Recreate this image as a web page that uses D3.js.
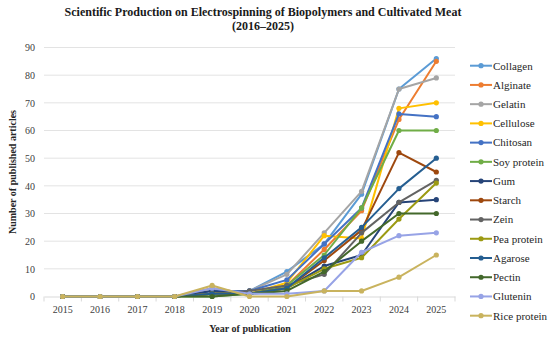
<!DOCTYPE html>
<html><head><meta charset="utf-8">
<script src="https://cdn.jsdelivr.net/npm/d3@7"></script>
<style>body{margin:0;background:#fff}svg{display:block}</style>
</head><body>
<svg id="c" width="550" height="340"></svg>
<script>
const years = ["2015","2016","2017","2018","2019","2020","2021","2022","2023","2024","2025"];
const yTicks = [0,10,20,30,40,50,60,70,80,90];
const seriesNames = ["Collagen","Alginate","Gelatin","Cellulose","Chitosan","Soy protein","Gum","Starch","Zein","Pea protein","Agarose","Pectin","Glutenin","Rice protein"];
const collagen   = [0,0,0,0,1,2,9,19,37,75,86];
const alginate   = [0,0,0,0,3,1,4,17,31,64,85];
const gelatin    = [0,0,0,0,1,2,8,23,38,75,79];
const cellulose  = [0,0,0,0,1,1,5,22,21,68,70];
const chitosan   = [0,0,0,0,2,2,6,19,32,66,65];
const soyProtein = [0,0,0,0,0,1,4,15,32,60,60];
const gum        = [0,0,0,0,2,1,3,11,15,34,35];
const starch     = [0,0,0,0,1,1,3,13,24,52,45];
const zein       = [0,0,0,0,1,2,4,8,23,34,42];
const peaProtein = [0,0,0,0,1,1,3,10,14,28,41];
const agarose    = [0,0,0,0,1,1,3,14,25,39,50];
const pectin     = [0,0,0,0,0,1,2,9,20,30,30];
const glutenin   = [0,0,0,0,3,1,1,2,16,22,23];
const riceProtein= [0,0,0,0,4,0,0,2,2,7,15];
const seriesValues = [collagen,alginate,gelatin,cellulose,chitosan,soyProtein,gum,starch,zein,peaProtein,agarose,pectin,glutenin,riceProtein];
const colors = ["#5B9BD5","#ED7D31","#A5A5A5","#FFC000","#4472C4","#70AD47","#264478","#9E480E","#636363","#9C9A12","#255E91","#43682B","#97A3E6","#C9B35E"];

const svg = d3.select("#c");
const serif = "'Liberation Serif','Times New Roman',serif";
const m = {l:44, r:455, t:47.5, b:296.5};
const x = d3.scaleBand().domain(years).range([m.l, m.r]);
const y = d3.scaleLinear().domain([0,90]).range([m.b, m.t]);

// gridlines
svg.append("g").selectAll("line").data(yTicks.filter(d=>d>0)).join("line")
  .attr("x1",m.l).attr("x2",m.r).attr("y1",d=>y(d)).attr("y2",d=>y(d))
  .attr("stroke","#e3e3e3").attr("stroke-width",1);

// x axis
const xa = svg.append("g").attr("transform",`translate(0,${m.b})`)
  .call(d3.axisBottom(x).tickSize(0).tickPadding(9));
xa.select(".domain").attr("stroke","#d9d9d9");
xa.selectAll("text").attr("font-family",serif).attr("font-size",10).attr("fill","#404040");
// category boundary ticks
svg.append("g").selectAll("line").data(d3.range(years.length+1)).join("line")
  .attr("x1",i=>m.l+i*x.step()).attr("x2",i=>m.l+i*x.step())
  .attr("y1",m.b).attr("y2",m.b+5).attr("stroke","#d9d9d9");

// y axis
const ya = svg.append("g").attr("transform",`translate(${m.l},0)`)
  .call(d3.axisLeft(y).tickValues(yTicks).tickSize(0).tickPadding(9));
ya.select(".domain").remove();
ya.selectAll("text").attr("font-family",serif).attr("font-size",10).attr("fill","#404040");

// lines
const line = d3.line().x((d,i)=>x(years[i])+x.bandwidth()/2).y(d=>y(d));
const g = svg.append("g");
seriesValues.forEach((vals,k)=>{
  g.append("path").datum(vals).attr("d",line).attr("fill","none")
    .attr("stroke",colors[k]).attr("stroke-width",2).attr("stroke-linejoin","round");
  g.append("g").selectAll("circle").data(vals).join("circle")
    .attr("cx",(d,i)=>x(years[i])+x.bandwidth()/2).attr("cy",d=>y(d)).attr("r",2.6)
    .attr("fill",colors[k]);
});

// title
svg.append("text").attr("x",263).attr("y",16).attr("text-anchor","middle")
  .attr("font-family",serif).attr("font-weight","bold").attr("font-size",12).attr("fill","#1a1a1a")
  .text("Scientific Production on Electrospinning of Biopolymers and Cultivated Meat");
svg.append("text").attr("x",263).attr("y",30).attr("text-anchor","middle")
  .attr("font-family",serif).attr("font-weight","bold").attr("font-size",12).attr("fill","#1a1a1a")
  .text("(2016–2025)");

// axis titles
svg.append("text").attr("x",250).attr("y",332).attr("text-anchor","middle")
  .attr("font-family",serif).attr("font-weight","bold").attr("font-size",10).attr("fill","#262626")
  .text("Year of publication");
svg.append("text").attr("transform","translate(16,172) rotate(-90)").attr("text-anchor","middle")
  .attr("font-family",serif).attr("font-weight","bold").attr("font-size",10).attr("fill","#262626")
  .text("Number of published articles");

// legend
const lg = svg.append("g").selectAll("g").data(seriesNames).join("g")
  .attr("transform",(d,i)=>`translate(470,${65.7+i*19.23})`);
lg.append("line").attr("x1",0).attr("x2",22).attr("stroke",(d,i)=>colors[i]).attr("stroke-width",2);
lg.append("circle").attr("cx",11).attr("r",2.6).attr("fill",(d,i)=>colors[i]);
lg.append("text").attr("x",23).attr("dy","0.35em").attr("font-family",serif)
  .attr("font-size",11).attr("fill","#262626").text(d=>d);
</script>
</body></html>
